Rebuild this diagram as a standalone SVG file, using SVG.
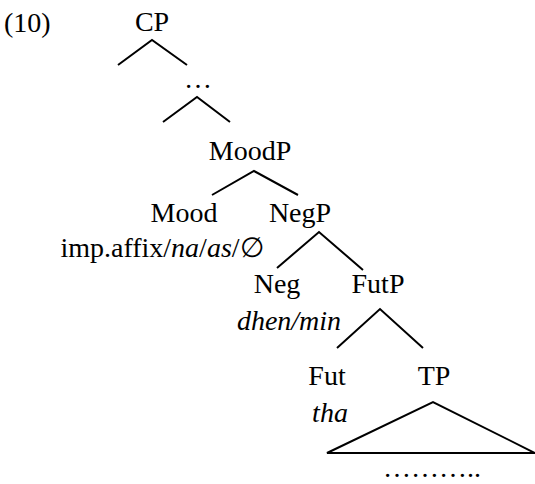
<svg xmlns="http://www.w3.org/2000/svg" width="535" height="484" viewBox="0 0 535 484">
<style>
text{font-family:"Liberation Serif","Times New Roman",serif;font-size:28px;fill:#000;text-anchor:middle}
.i{font-style:italic}
.l{stroke:#000;stroke-width:2;fill:none;stroke-linecap:butt}
</style>
<rect width="535" height="484" fill="#fff"/>
<text x="4" y="32" style="text-anchor:start">(10)</text>
<g id="cp"><text x="152" y="31">CP</text></g>
<g id="dots1"><text x="198" y="88">…</text></g>
<g id="moodp"><text x="250" y="160">MoodP</text></g>
<g id="mood"><text x="184" y="222">Mood</text><text x="162" y="257">imp.affix/<tspan class="i">na</tspan>/<tspan class="i">as</tspan>/∅</text></g>
<g id="negp"><text x="300" y="222">NegP</text></g>
<g id="neg"><text x="277" y="293">Neg</text><text x="289" y="330" class="i">dhen/min</text></g>
<g id="futp"><text x="378" y="293">FutP</text></g>
<g id="fut"><text x="327" y="385">Fut</text><text x="330" y="422" class="i">tha</text></g>
<g id="tp"><text x="434" y="385">TP</text></g>
<g id="dots2"><text x="432" y="477">………..</text></g>
<g id="connectors">
<polyline class="l" points="118,65 152,40 187,65"/>
<polyline class="l" points="163,122 197,97 230,122"/>
<polyline class="l" points="212,195 254,171 298,195"/>
<polyline class="l" points="277,268 319,232 363,270"/>
<polyline class="l" points="337,348 380,309 423,348"/>
<polygon class="l" points="327,453 433,402 535,453"/>
</g>
</svg>
